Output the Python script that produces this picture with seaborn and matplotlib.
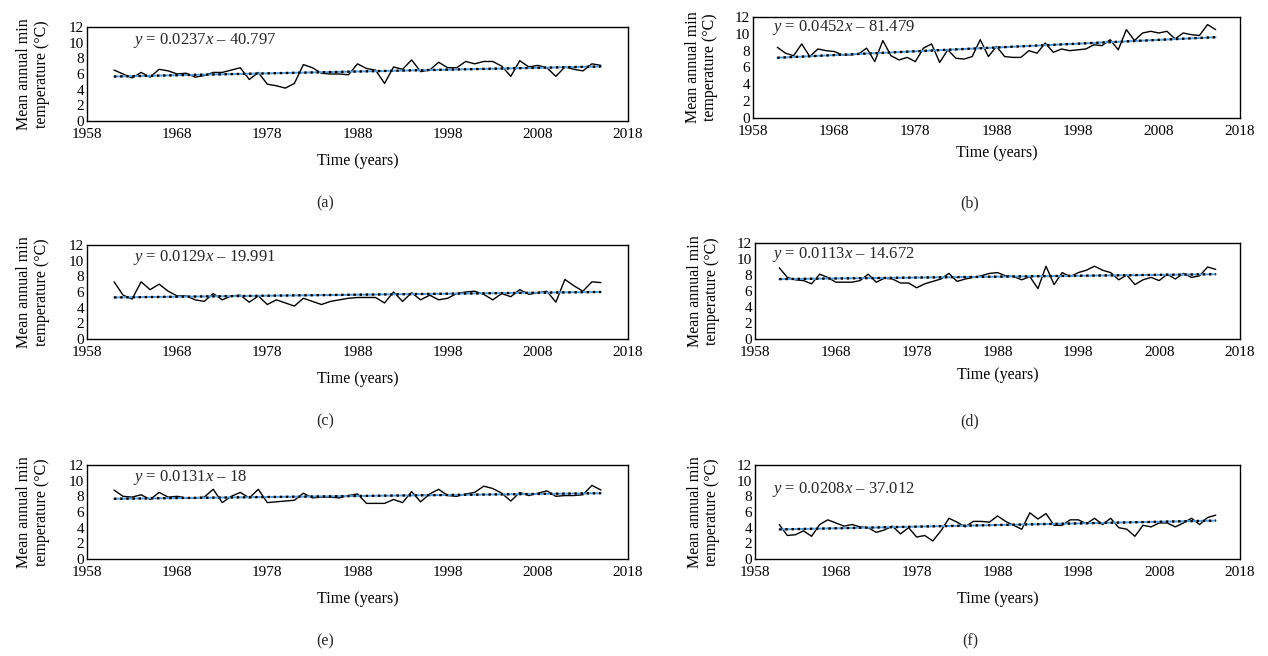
import numpy as np
import pandas as pd
import matplotlib
matplotlib.use("Agg")
import matplotlib.pyplot as plt
import seaborn as sns

# ---- data: mean annual min temperature, 1961-2015, six stations ----
years = np.arange(1961, 2016)

temp_a = [6.5, 6.0, 5.5, 6.2, 5.6, 6.6, 6.4, 6.0, 6.1, 5.6,
          5.8, 6.2, 6.2, 6.5, 6.8, 5.3, 6.2, 4.7, 4.5, 4.2,
          4.8, 7.2, 6.8, 6.1, 6.0, 6.0, 5.9, 7.3, 6.7, 6.5,
          4.8, 6.9, 6.6, 7.8, 6.3, 6.5, 7.5, 6.8, 6.8, 7.6,
          7.3, 7.6, 7.6, 7.0, 5.7, 7.7, 6.9, 7.1, 6.8, 5.7,
          6.9, 6.6, 6.4, 7.3, 7.1]
temp_b = [8.4, 7.7, 7.4, 8.8, 7.3, 8.2, 8.0, 7.9, 7.5, 7.5,
          7.6, 8.3, 6.7, 9.2, 7.4, 6.9, 7.2, 6.7, 8.3, 8.8,
          6.6, 8.1, 7.1, 7.0, 7.3, 9.3, 7.3, 8.5, 7.3, 7.2,
          7.2, 8.0, 7.7, 8.9, 7.8, 8.2, 8.0, 8.1, 8.2, 8.7,
          8.6, 9.3, 8.1, 10.5, 9.2, 10.1, 10.3, 10.1, 10.3, 9.4,
          10.1, 9.9, 9.8, 11.1, 10.5]
temp_c = [7.3, 5.6, 5.1, 7.3, 6.3, 7.0, 6.1, 5.5, 5.5, 5.0,
          4.8, 5.8, 5.0, 5.5, 5.6, 4.7, 5.5, 4.4, 5.0, 4.6,
          4.2, 5.2, 4.8, 4.4, 4.8, 5.0, 5.2, 5.3, 5.3, 5.3,
          4.6, 6.0, 4.8, 5.9, 5.0, 5.6, 5.0, 5.2, 5.8, 6.0,
          6.1, 5.7, 5.0, 5.8, 5.4, 6.3, 5.7, 5.9, 6.1, 4.7,
          7.6, 6.8, 6.1, 7.3, 7.2]
temp_d = [8.9, 7.7, 7.4, 7.3, 6.9, 8.1, 7.7, 7.1, 7.1, 7.1,
          7.3, 8.1, 7.1, 7.6, 7.5, 7.0, 7.0, 6.4, 6.9, 7.2,
          7.5, 8.2, 7.2, 7.5, 7.7, 7.9, 8.2, 8.3, 7.9, 7.8,
          7.4, 7.8, 6.3, 9.1, 6.8, 8.3, 7.8, 8.3, 8.6, 9.1,
          8.6, 8.3, 7.4, 8.0, 6.8, 7.4, 7.7, 7.3, 8.1, 7.5,
          8.2, 7.7, 7.9, 9.0, 8.7]
temp_e = [8.8, 8.0, 7.9, 8.2, 7.6, 8.5, 7.9, 8.0, 7.8, 7.8,
          7.9, 8.9, 7.2, 8.0, 8.5, 7.8, 8.9, 7.2, 7.3, 7.4,
          7.5, 8.4, 7.8, 7.9, 7.9, 7.8, 8.1, 8.3, 7.1, 7.1,
          7.1, 7.6, 7.2, 8.6, 7.3, 8.3, 8.9, 8.1, 8.0, 8.3,
          8.5, 9.3, 9.0, 8.4, 7.4, 8.5, 8.1, 8.4, 8.7, 8.0,
          8.1, 8.1, 8.2, 9.4, 8.8]
temp_f = [4.4, 3.0, 3.1, 3.6, 2.9, 4.4, 5.0, 4.6, 4.2, 4.4,
          4.1, 4.0, 3.4, 3.7, 4.2, 3.2, 4.0, 2.8, 3.0, 2.3,
          3.6, 5.2, 4.7, 4.1, 4.8, 4.8, 4.7, 5.5, 4.8, 4.3,
          3.8, 5.9, 5.1, 5.8, 4.3, 4.3, 5.0, 5.0, 4.5, 5.2,
          4.4, 5.2, 4.0, 3.8, 2.9, 4.3, 4.1, 4.6, 4.6, 4.1,
          4.6, 5.2, 4.4, 5.3, 5.6]

series = [temp_a, temp_b, temp_c, temp_d, temp_e, temp_f]
panel_names = ['(a)', '(b)', '(c)', '(d)', '(e)', '(f)']
slopes = [0.0237, 0.0452, 0.0129, 0.0113, 0.0131, 0.0208]
intercepts = [-40.797, -81.479, -19.991, -14.672, -18, -37.012]
eq_slopes = ['0.0237', '0.0452', '0.0129', '0.0113', '0.0131', '0.0208']
eq_consts = ['40.797', '81.479', '19.991', '14.672', '18', '37.012']
x_ticks = [1958, 1968, 1978, 1988, 1998, 2008, 2018]
y_ticks = [0, 2, 4, 6, 8, 10, 12]

# ---- style ----
sns.set_theme(style="white")
plt.rcParams['font.family'] = ['Liberation Serif', 'DejaVu Serif']
plt.rcParams['mathtext.fontset'] = 'custom'
plt.rcParams['mathtext.rm'] = 'Liberation Serif'
plt.rcParams['mathtext.it'] = 'Liberation Serif:italic'

W, H = 1268, 656
fig = plt.figure(figsize=(W / 100, H / 100), dpi=100)

# axes boxes in pixels: left, top, right, bottom
boxes = [(87, 27, 628, 121), (753, 17, 1240, 118),
         (87, 245, 628, 339), (755, 243, 1240, 339),
         (87, 465, 628, 559), (755, 465, 1240, 559)]
eq_pos = [(0.085, 0.86), (0.04, 0.90), (0.085, 0.87),
          (0.035, 0.88), (0.085, 0.87), (0.035, 0.74)]
xlabel_pad = [9, 5, 9, 6, 9, 9]
ylabel_pad = [14, 12, 14, 12, 14, 12]
label_pos = [(325, 203), (970, 203), (325, 421), (970, 421), (325, 641), (970, 641)]

for i in range(6):
    l, t, r, b = boxes[i]
    ax = fig.add_axes([l / W, 1 - b / H, (r - l) / W, (b - t) / H])

    df = pd.DataFrame({'year': years, 'temp': series[i]})
    sns.lineplot(data=df, x='year', y='temp', color='black', linewidth=1.0, ax=ax)

    # linear trend from the printed equation
    trend = slopes[i] * years + intercepts[i]
    sns.lineplot(x=years, y=trend, color='#5b9bd5', linewidth=1.4, ax=ax)
    ax.plot(years, trend, color='black', linestyle=(0, (1, 1.6)), linewidth=1.7)

    ax.set_xlim(1958, 2018)
    ax.set_ylim(0, 12)
    ax.set_xticks(x_ticks)
    ax.set_yticks(y_ticks)
    ax.tick_params(length=0, labelsize=11, colors='black')
    ax.tick_params(axis='x', pad=5)
    ax.tick_params(axis='y', pad=2)
    for s in ax.spines.values():
        s.set_color('black')
        s.set_linewidth(1.0)

    ax.set_xlabel('Time (years)', fontsize=11.5, color='black', labelpad=xlabel_pad[i])
    ax.set_ylabel('Mean annual min\ntemperature (°C)', fontsize=11.5,
                  color='black', labelpad=ylabel_pad[i], linespacing=1.15)

    ax.text(eq_pos[i][0], eq_pos[i][1],
            '$y$ = ' + eq_slopes[i] + '$x$ \u2013 ' + eq_consts[i],
            transform=ax.transAxes, fontsize=12, va='center', ha='left')

    fig.text(label_pos[i][0] / W, 1 - label_pos[i][1] / H, panel_names[i],
             fontsize=11.5, ha='center', va='center')

fig.savefig('out.png', dpi=100)
